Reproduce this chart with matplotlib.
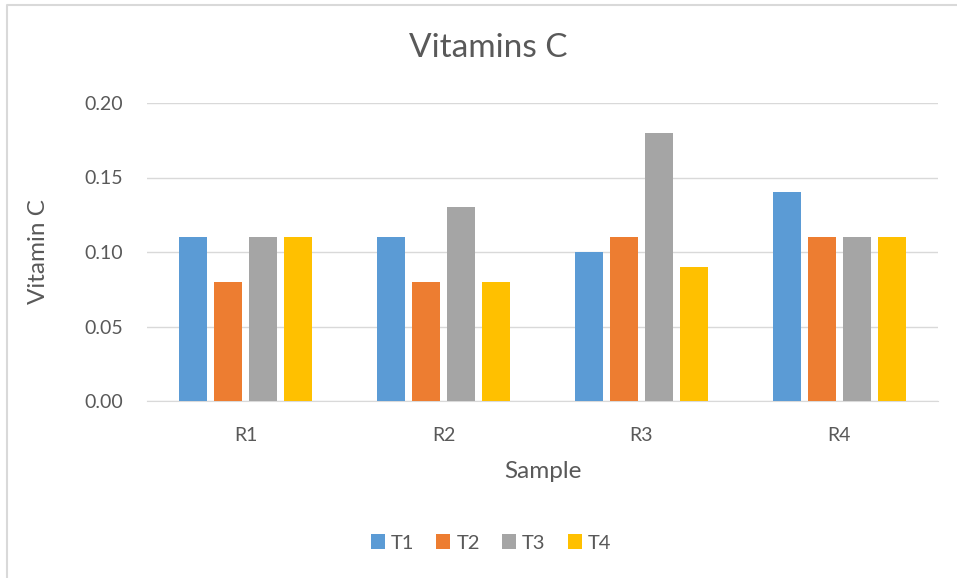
import numpy as np
import matplotlib
matplotlib.use("Agg")
import matplotlib.pyplot as plt
from matplotlib.lines import Line2D

plt.rcParams["font.family"] = ["Lato", "DejaVu Sans"]

samples = ["R1", "R2", "R3", "R4"]
series = ["T1", "T2", "T3", "T4"]
t1 = [0.11, 0.11, 0.10, 0.14]
t2 = [0.08, 0.08, 0.11, 0.11]
t3 = [0.11, 0.13, 0.18, 0.11]
t4 = [0.11, 0.08, 0.09, 0.11]
yticks = [0.00, 0.05, 0.10, 0.15, 0.20]

colors = ["#5B9BD5", "#ED7D31", "#A5A5A5", "#FFC000"]
text_col = "#595959"

fig = plt.figure(figsize=(9.57, 5.78), dpi=100)
ax = fig.add_axes([147 / 957, 1 - 401 / 578, (938 - 147) / 957, (401 - 103) / 578])

x = np.arange(len(samples))
width = 28 / 197.75
step = 35 / 197.75
for i, (name, vals) in enumerate(zip(series, [t1, t2, t3, t4])):
    ax.bar(x + (i - 1.5) * step, vals, width, color=colors[i], label=name, zorder=3)

ax.set_xlim(-0.5, len(samples) - 0.5)
ax.set_ylim(0, 0.20)
ax.set_yticks(yticks)
ax.set_yticklabels([f"{v:.2f}" for v in yticks])
ax.set_xticks(x)
ax.set_xticklabels(samples)
ax.grid(axis="y", color="#D9D9D9", linewidth=1, zorder=0)
for s in ["top", "right", "left"]:
    ax.spines[s].set_visible(False)
ax.spines["bottom"].set_color("#D9D9D9")
ax.tick_params(axis="both", length=0, colors=text_col, labelsize=14)
ax.tick_params(axis="y", pad=17)
ax.tick_params(axis="x", pad=19)

ax.set_xlabel("Sample", fontsize=17.5, color=text_col, va="center")
ax.xaxis.set_label_coords(0.5, (401 - 472) / 298)
ax.set_ylabel("Vitamin C", fontsize=17.5, color=text_col, va="center")
ax.yaxis.set_label_coords((38 - 147) / 791, 0.5)
fig.text(488 / 957, 1 - 48 / 578, "Vitamins C", fontsize=24, color=text_col,
         ha="center", va="center")

ax.legend(loc="center", bbox_to_anchor=(491 / 957, 1 - 543 / 578),
          bbox_transform=fig.transFigure, ncol=4, frameon=False,
          fontsize=14.5, handlelength=0.7, handleheight=0.7,
          handletextpad=0.3, columnspacing=1.1, labelcolor=text_col)

# outer chart border (top and left edges visible in the crop)
fig.add_artist(Line2D([7 / 957, 7 / 957, 1], [0, 1 - 5 / 578, 1 - 5 / 578],
                      transform=fig.transFigure, color="#D9D9D9", linewidth=1.5))

fig.savefig("out.png", dpi=100)
